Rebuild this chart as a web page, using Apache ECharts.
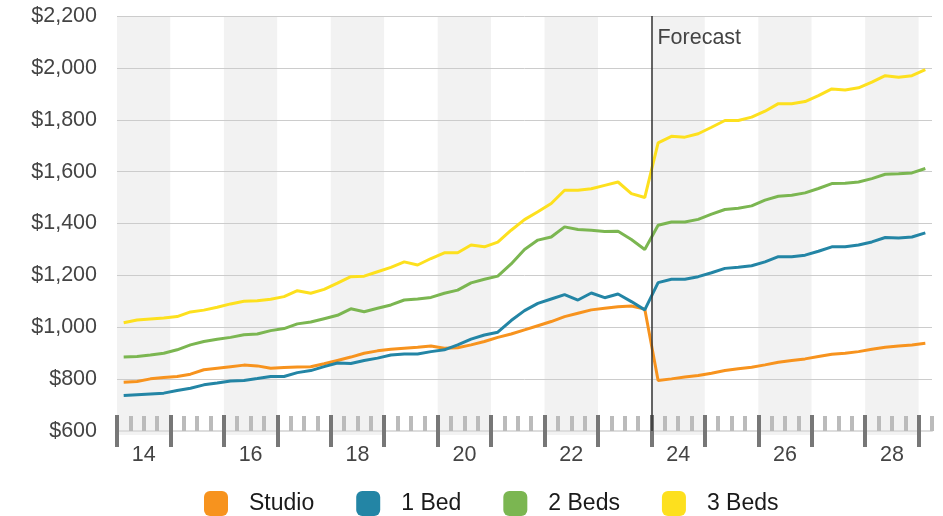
<!DOCTYPE html>
<html>
<head>
<meta charset="utf-8">
<script src="https://cdn.jsdelivr.net/npm/echarts@6/dist/echarts.min.js"></script>
<style>
html,body{margin:0;padding:0;background:#fff;}
#chart{width:943px;height:516px;}
</style>
</head>
<body>
<div id="chart"></div>
<script>
// ---- data ----
const startYear = 2014;           // first quarter: 2014 Q1
const forecastStart = 2024;
const seriesNames = ['Studio', '1 Bed', '2 Beds', '3 Beds'];
const yTicks = [600, 800, 1000, 1200, 1400, 1600, 1800, 2000, 2200];

const studio = [788,791,801,806,810,819,836,842,848,854,
                851,842,845,847,848,859,872,885,900,909,
                915,919,923,928,919,921,932,945,961,974,
                990,1006,1022,1041,1054,1067,1073,1079,1082,1070,
                795,801,808,814,823,833,840,846,855,865,
                872,878,887,896,900,906,915,923,928,932,938];
const oneBed = [737,740,743,746,756,765,778,785,793,795,
                802,810,810,825,833,848,862,860,872,881,
                893,897,897,906,913,932,954,970,981,1026,
                1064,1092,1109,1126,1105,1132,1114,1128,1099,1067,
                1172,1185,1185,1195,1210,1227,1231,1237,1252,1272,
                1272,1278,1293,1310,1310,1317,1329,1346,1344,1348,1364];
const twoBeds = [885,887,893,900,913,932,945,954,961,971,
                 974,987,995,1013,1020,1033,1046,1071,1060,1073,
                 1086,1105,1109,1115,1131,1143,1171,1185,1197,1244,
                 1300,1336,1348,1387,1377,1374,1369,1370,1338,1300,
                 1393,1406,1406,1416,1436,1454,1459,1468,1490,1505,
                 1509,1518,1535,1554,1555,1560,1573,1590,1592,1595,1612];
const threeBeds = [1017,1028,1032,1036,1041,1059,1066,1077,1090,1100,
                   1102,1108,1118,1141,1131,1146,1170,1195,1197,1214,
                   1231,1252,1240,1265,1287,1287,1317,1310,1328,1374,
                   1415,1445,1477,1528,1528,1534,1547,1560,1515,1500,
                   1711,1736,1733,1746,1771,1797,1797,1810,1833,1862,
                   1862,1870,1893,1919,1915,1923,1945,1970,1964,1970,1993];
const seriesValues = [studio, oneBed, twoBeds, threeBeds];
const colors = ['#f7931e', '#2385a5', '#7bb651', '#fde01e'];

// quarter positions (centre of each quarter)
const quarterX = studio.map((_, i) => startYear + Math.floor(i / 4) + ((i % 4) + 0.5) / 4);

// ---- layout ----
const W = 943, gridLeft = 117, gridRight = 11, gridTop = 16, gridBottom = 85;
const xMin = 2014, xMax = 2029.25, xMaxYears = 2029;
const plotW = W - gridLeft - gridRight;
const unit = plotW / (xMax - xMin);
const gridRightB = gridRight + (xMax - xMaxYears) * unit;
const FONT = '"Liberation Sans", Arial, Helvetica, sans-serif';
const AXIS_FS = 21.5;

function money(v) {
  return '$' + String(v).replace(/\B(?=(\d{3})+(?!\d))/g, ',');
}

const chart = echarts.init(document.getElementById('chart'), null, {renderer: 'canvas'});

const series = seriesNames.map((name, k) => ({
  name: name,
  type: 'line',
  xAxisIndex: 0,
  yAxisIndex: 0,
  data: seriesValues[k].map((v, i) => [quarterX[i], v]),
  showSymbol: false,
  symbol: 'none',
  lineStyle: {color: colors[k], width: 3},
  itemStyle: {color: colors[k]},
  z: 2,
  animation: false
}));
series[0].markLine = {
  silent: true,
  symbol: 'none',
  label: {show: false},
  lineStyle: {color: '#333', width: 1.5, type: 'solid'},
  data: [{xAxis: forecastStart}],
  animation: false
};

const option = {
  animation: false,
  textStyle: {fontFamily: FONT},
  grid: [
    {left: gridLeft, right: gridRight, top: gridTop, bottom: gridBottom},
    {left: gridLeft, right: gridRightB, top: gridTop, bottom: gridBottom},
    {left: gridLeft, right: gridRightB, top: gridTop, bottom: gridBottom - 4}
  ],
  legend: {
    data: seriesNames.map((n, k) => ({name: n, itemStyle: {color: colors[k]}})),
    left: 204,
    top: 491,
    padding: 0,
    icon: 'roundRect',
    itemWidth: 24,
    itemHeight: 25,
    itemGap: 42,
    textStyle: {fontSize: 23, color: '#1a1a1a', fontFamily: FONT, padding: [3, 0, 0, 16]}
  },
  xAxis: [
    { // data axis: quarter ticks + baseline
      type: 'value', gridIndex: 0, position: 'bottom',
      min: xMin, max: xMax, interval: 0.25, z: 1,
      axisLine: {show: true, onZero: false, lineStyle: {color: '#dddddd', width: 2}},
      axisTick: {show: true, inside: true, length: 15, lineStyle: {color: '#bbbbbb', width: 4}},
      axisLabel: {show: false},
      splitLine: {show: false}
    },
    { // year shading
      type: 'value', gridIndex: 2, position: 'bottom',
      min: xMin, max: xMaxYears, interval: 1, z: 0,
      axisLine: {show: false}, axisTick: {show: false}, axisLabel: {show: false},
      splitLine: {show: false},
      splitArea: {show: true, areaStyle: {color: ['#f2f2f2', '#ffffff']}}
    },
    { // major ticks (inside) + labels
      type: 'value', gridIndex: 1, position: 'bottom',
      min: xMin, max: xMaxYears, interval: 1, z: 3,
      axisLine: {show: false, onZero: false},
      axisTick: {show: true, inside: true, length: 16, lineStyle: {color: '#777777', width: 4}},
      splitLine: {show: false},
      axisLabel: {
        show: true, margin: 13,
        formatter: function (v) {
          return (v % 2 === 0 && v < xMaxYears) ? '{a|' + String(v % 100) + '}' : '';
        },
        rich: {a: {fontSize: AXIS_FS, color: '#444', fontFamily: FONT, lineHeight: 22, padding: [0, 0, 0, unit]}}
      }
    },
    { // major ticks (outside)
      type: 'value', gridIndex: 1, position: 'bottom',
      min: xMin, max: xMaxYears, interval: 1, z: 3,
      axisLine: {show: false, onZero: false},
      axisTick: {show: true, inside: false, length: 16, lineStyle: {color: '#777777', width: 4}},
      axisLabel: {show: false},
      splitLine: {show: false}
    }
  ],
  yAxis: [
    {
      type: 'value', gridIndex: 0, min: yTicks[0], max: yTicks[yTicks.length - 1], interval: 200, z: 1,
      axisLine: {show: false}, axisTick: {show: false},
      axisLabel: {color: '#444', fontSize: AXIS_FS, margin: 20, fontFamily: FONT, formatter: money},
      splitLine: {show: true, lineStyle: {color: '#cccccc', width: 1}}
    },
    {
      type: 'value', gridIndex: 1, min: yTicks[0], max: yTicks[yTicks.length - 1], interval: 200,
      show: false, splitLine: {show: false}
    },
    {
      type: 'value', gridIndex: 2, min: 0, max: 1,
      show: false, splitLine: {show: false}
    }
  ],
  series: series
};
chart.setOption(option);

// "Forecast" annotation next to the forecast line
const fx = chart.convertToPixel({xAxisIndex: 0}, forecastStart);
const fy = chart.convertToPixel({yAxisIndex: 0}, yTicks[yTicks.length - 1]);
chart.setOption({
  graphic: [{
    type: 'text', x: fx + 6, y: fy + 11, z: 10,
    style: {text: 'Forecast', fill: '#444', font: AXIS_FS + 'px ' + FONT, textVerticalAlign: 'top'}
  }]
});
</script>
</body>
</html>
